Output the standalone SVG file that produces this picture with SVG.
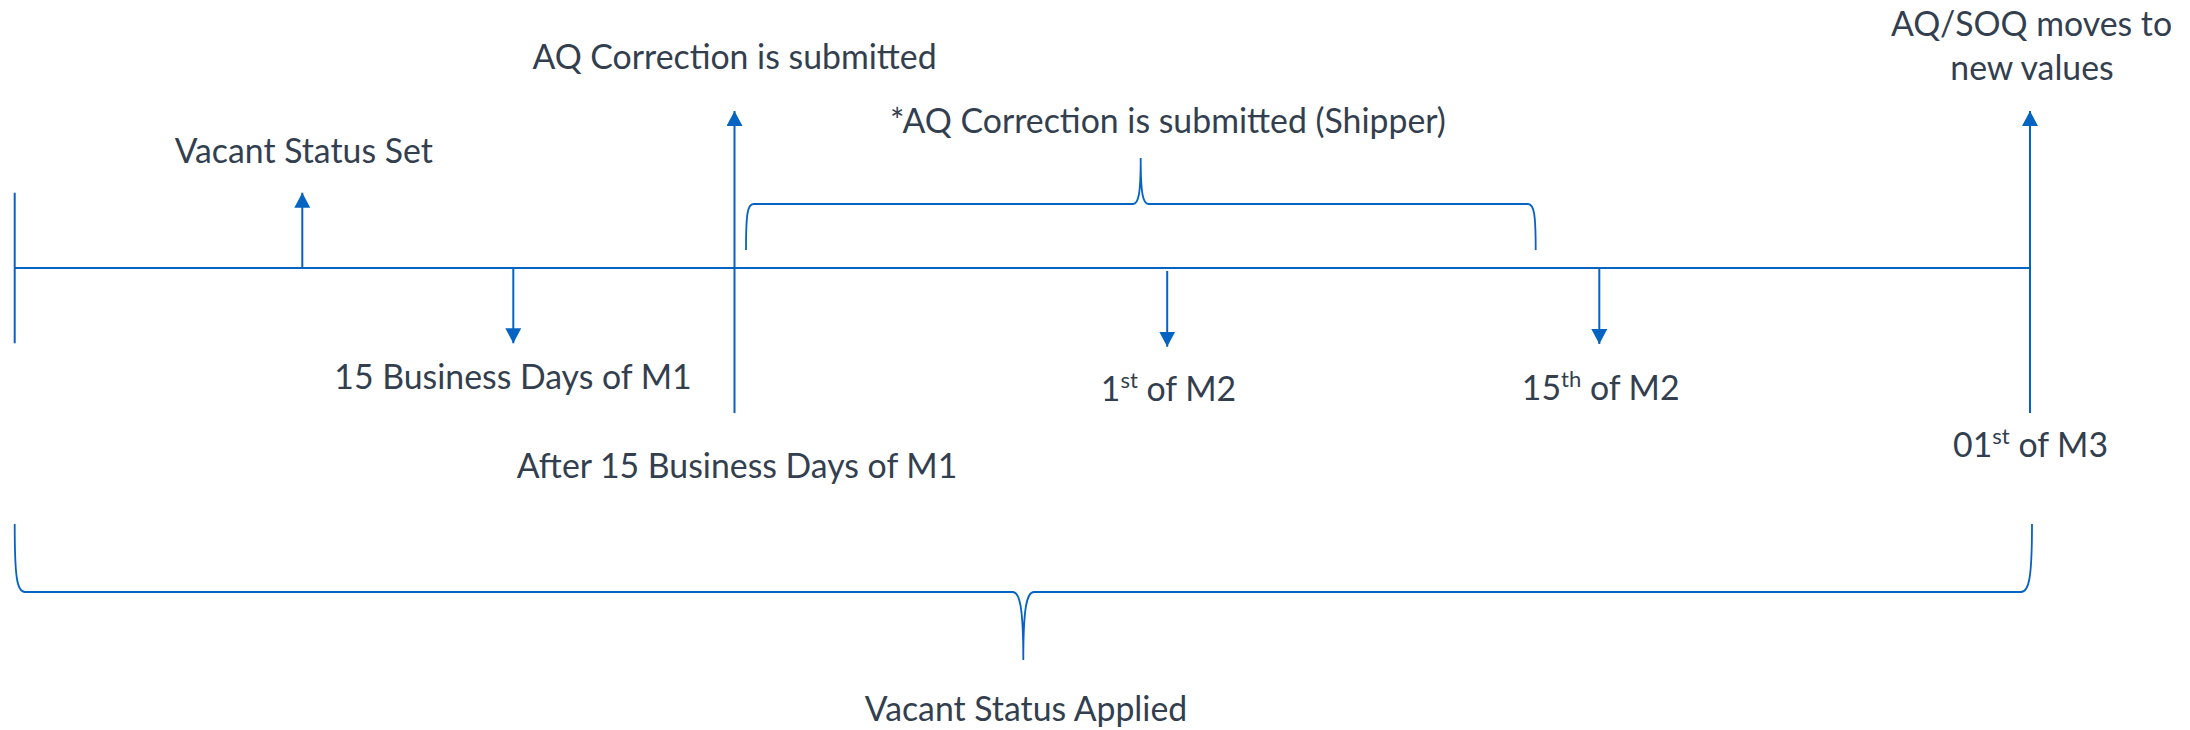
<svg xmlns="http://www.w3.org/2000/svg" width="2190" height="730" viewBox="0 0 2190 730">
  <style>
    .ln { stroke: #0563C1; stroke-width: 2; fill: none; }
    .br { stroke: #0563C1; stroke-width: 1.8; fill: none; }
    .lbl { font-family: Lato, "Liberation Sans", sans-serif; font-size: 33.8px; fill: #333F4F; text-anchor: middle; }
    .sup { font-size: 22px; }
  </style>
  <defs>
    <marker id="arrow" viewBox="0 0 15 16" refX="15" refY="8" markerWidth="15" markerHeight="16" markerUnits="userSpaceOnUse" orient="auto">
      <path d="M0,0 L15,8 L0,16 z" fill="#0563C1"/>
    </marker>
  </defs>
  <rect width="2190" height="730" fill="#FFFFFF"/>

  <g id="connectors">
    <line id="timeline" class="ln" x1="14.7" y1="268" x2="2030" y2="268"/>
    <line id="start-tick" class="ln" x1="14.7" y1="192.7" x2="14.7" y2="343.3"/>
    <line id="arrow-vacant-set" class="ln" x1="302.3" y1="268" x2="302.3" y2="192.7" marker-end="url(#arrow)"/>
    <line id="arrow-15bd" class="ln" x1="513.3" y1="268" x2="513.3" y2="343.3" marker-end="url(#arrow)"/>
    <line id="arrow-aq" class="ln" x1="734.5" y1="413" x2="734.5" y2="111" marker-end="url(#arrow)"/>
    <line id="arrow-1st-m2" class="ln" x1="1167.2" y1="271" x2="1167.2" y2="346.7" marker-end="url(#arrow)"/>
    <line id="arrow-15th-m2" class="ln" x1="1599.3" y1="268" x2="1599.3" y2="344" marker-end="url(#arrow)"/>
    <line id="arrow-m3" class="ln" x1="2030" y1="413" x2="2030" y2="111" marker-end="url(#arrow)"/>
  </g>

  <g id="brace-shipper">
    <path class="br" d="M746,250 C746,214 747.5,204 753.5,204 L1133,204 C1138.5,204 1140.7,194 1140.7,158 C1140.7,194 1143,204 1148.5,204 L1528,204 C1534,204 1535.7,214 1535.7,250"/>
  </g>

  <g id="brace-vacant">
    <path class="br" d="M14.7,524 C14.7,578 17,592 25,592 L1012.7,592 C1019.5,592 1023.3,606 1023.3,660 C1023.3,606 1027,592 1034,592 L2021,592 C2029,592 2032,578 2032,524"/>
  </g>

  <g id="node-vacant-set">
    <text class="lbl" x="303.7" y="162.7">Vacant Status Set</text>
  </g>
  <g id="node-aq-submitted">
    <text class="lbl" x="734.5" y="68.5">AQ Correction is submitted</text>
  </g>
  <g id="node-aq-shipper">
    <text class="lbl" x="1168" y="133.3">*AQ Correction is submitted (Shipper)</text>
  </g>
  <g id="node-aq-soq">
    <text class="lbl" x="2031.5" y="36">AQ/SOQ moves to</text>
    <text class="lbl" x="2032" y="80">new values</text>
  </g>
  <g id="node-15bd">
    <text class="lbl" x="513" y="389.3">15 Business Days of M1</text>
  </g>
  <g id="node-after-15bd">
    <text class="lbl" x="737" y="477.7">After 15 Business Days of M1</text>
  </g>
  <g id="node-1st-m2">
    <text class="lbl" x="1168.5" y="400.5">1<tspan class="sup" dy="-13">st</tspan><tspan dy="13"> of M2</tspan></text>
  </g>
  <g id="node-15th-m2">
    <text class="lbl" x="1600.7" y="399.5">15<tspan class="sup" dy="-13">th</tspan><tspan dy="13"> of M2</tspan></text>
  </g>
  <g id="node-01st-m3">
    <text class="lbl" x="2030.6" y="456.7">01<tspan class="sup" dy="-13">st</tspan><tspan dy="13"> of M3</tspan></text>
  </g>
  <g id="node-vacant-applied">
    <text class="lbl" x="1026" y="721">Vacant Status Applied</text>
  </g>
</svg>
